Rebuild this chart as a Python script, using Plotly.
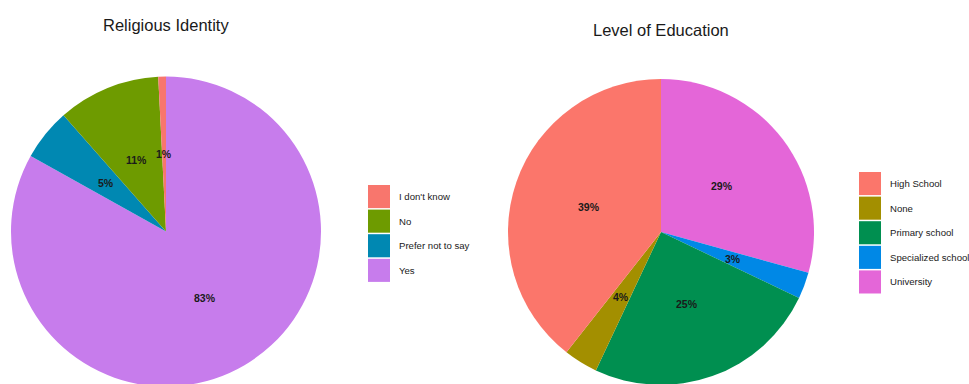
import math
import plotly.graph_objects as go

W, H = 969, 392  # page window is 384 tall; the lowest pixels are clipped like the reference

# ---- data ----
rel_labels = ["I don't know", "No", "Prefer not to say", "Yes"]
rel_values = [0.8, 10.7, 5.4, 83.1]
rel_text = ["1%", "11%", "5%", "83%"]
rel_colors = ["#F8766D", "#6E9B00", "#0088B2", "#C77CEC"]

edu_labels = ["High School", "None", "Primary school", "Specialized school", "University"]
edu_values = [39.4, 3.6, 24.9, 2.8, 29.3]
edu_text = ["39%", "4%", "25%", "3%", "29%"]
edu_colors = ["#FB766B", "#A38F00", "#008F50", "#0088E6", "#E466D8"]

FONT = "Liberation Sans, Arial, sans-serif"


def px(x):
    return x / W


def py(y):
    return 1 - y / H


fig = go.Figure()

pies = [
    dict(labels=rel_labels, values=rel_values, text=rel_text, colors=rel_colors,
         dx=(11, 321), dy=(76.5, 386.5), title="Religious Identity", title_y=25,
         leg_x=368, leg_top=185, leg_text_x=397),
    dict(labels=edu_labels, values=edu_values, text=edu_text, colors=edu_colors,
         dx=(508, 814), dy=(79, 385), title="Level of Education", title_y=30,
         leg_x=859, leg_top=172, leg_text_x=888),
]

shapes = []
annotations = []
for p in pies:
    x0, x1 = p["dx"]
    y0, y1 = p["dy"]
    # ggplot-style: first slice starts at 12 o'clock and runs counter-clockwise;
    # equivalent to the reversed order drawn clockwise from 12 o'clock.
    fig.add_trace(go.Pie(
        labels=p["labels"][::-1], values=p["values"][::-1], sort=False,
        direction="clockwise", rotation=0,
        marker=dict(colors=p["colors"][::-1], line=dict(width=0)),
        textinfo="none", showlegend=False, hoverinfo="label+percent",
        domain=dict(x=[px(x0), px(x1)], y=[py(y1), py(y0)]),
    ))
    cx = (x0 + x1) / 2
    cy = (y0 + y1) / 2
    r = min(x1 - x0, y1 - y0) / 2
    total = sum(p["values"])
    cum = 0
    for v, t in zip(p["values"], p["text"]):
        m = (cum + v / 2) / total
        cum += v
        th = 2 * math.pi * m
        rho = r * 0.5
        lx = cx - rho * math.sin(th)
        ly = cy - rho * math.cos(th)
        annotations.append(dict(
            x=px(lx), y=py(ly), xref="paper", yref="paper", text="<b>" + t + "</b>",
            showarrow=False, font=dict(size=10.5, color="#1a1a1a", family=FONT),
            xanchor="center", yanchor="middle"))
    annotations.append(dict(
        x=px(cx), y=py(p["title_y"]), xref="paper", yref="paper", text=p["title"],
        showarrow=False, font=dict(size=16.5, color="#1a1a1a", family=FONT),
        xanchor="center", yanchor="middle"))
    pitch = 24.6
    for i, (lab, col) in enumerate(zip(p["labels"], p["colors"])):
        top = p["leg_top"] + i * pitch
        shapes.append(dict(
            type="rect", xref="paper", yref="paper",
            x0=px(p["leg_x"]), x1=px(p["leg_x"] + 22),
            y0=py(top + pitch - 1.5), y1=py(top),
            fillcolor=col, line=dict(width=0)))
        annotations.append(dict(
            x=px(p["leg_text_x"]), y=py(top + (pitch - 1.5) / 2), xref="paper", yref="paper",
            text=lab, showarrow=False, xanchor="left", yanchor="middle",
            font=dict(size=9.6, color="#1a1a1a", family=FONT)))

fig.update_layout(
    width=W, height=H,
    margin=dict(l=0, r=0, t=0, b=0),
    paper_bgcolor="white", plot_bgcolor="white",
    shapes=shapes, annotations=annotations,
    showlegend=False,
)

fig.write_html(
    "out.html",
    config={"displayModeBar": False},
    post_script="document.body.style.margin='0';document.body.style.overflow='hidden';",
)
